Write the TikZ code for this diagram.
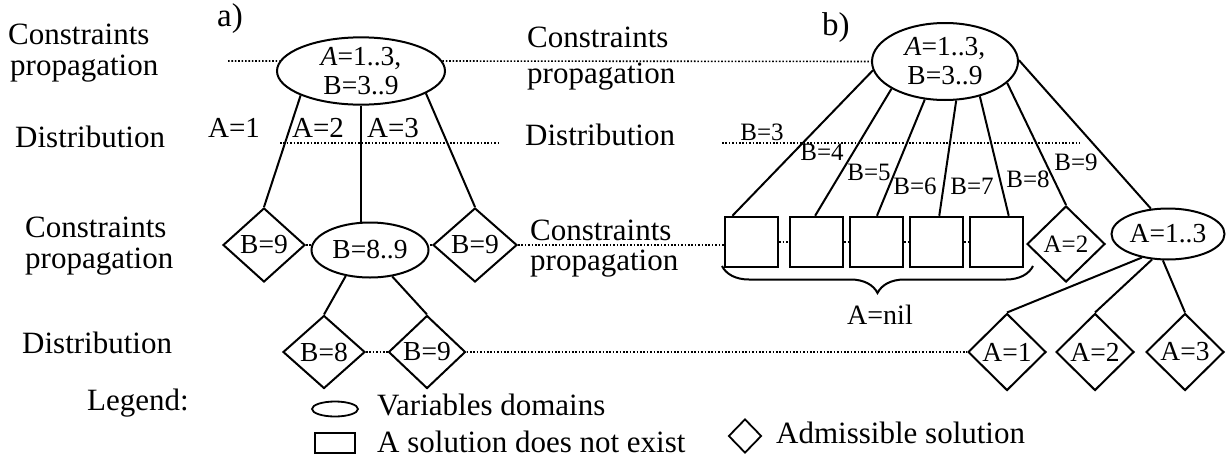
\documentclass[tikz,border=0pt]{standalone}
\usepackage{fontspec}
\setmainfont{Liberation Serif}
\usetikzlibrary{shapes.geometric,decorations.pathreplacing}
\begin{document}
\begin{tikzpicture}[x=1pt,y=-1pt,
  big/.style={font=\fontsize{31}{31}\selectfont, inner sep=0pt, anchor=base west},
  lbl/.style={font=\fontsize{29}{29}\selectfont, inner sep=0pt, anchor=base west},
  elab/.style={font=\fontsize{25}{25}\selectfont, inner sep=0pt},
  dom/.style={draw, ellipse, line width=2pt, inner sep=0pt, font=\fontsize{27.5}{29}\selectfont, align=center},
  sol/.style={draw, diamond, line width=2pt, inner sep=0pt, font=\fontsize{27.5}{27}\selectfont},
  nosol/.style={draw, rectangle, line width=2.5pt, inner sep=0pt, minimum width=53pt, minimum height=50pt},
  edge/.style={line width=2pt},
  dots/.style={line width=1.6pt, dash pattern=on 1.6pt off 1.8pt},
]
\useasboundingbox (0,0) rectangle (1226,458);

% left column labels
\node[big] (lc1) at (8,44) {Constraints};
\node[big] (lp1) at (10,75) {propagation};
\node[big] (ld1) at (15,147) {Distribution};
\node[big] (lc2) at (25,237) {Constraints};
\node[big] (lp2) at (25,268) {propagation};
\node[big] (ld2) at (22,353) {Distribution};
\node[big] (leg) at (87,410) {Legend:};

% middle column labels
\node[big] (mc1) at (527,47) {Constraints};
\node[big] (mp1) at (527,83) {propagation};
\node[big] (md1) at (525,145) {Distribution};
\node[big] (mc2) at (530,240) {Constraints};
\node[big] (mp2) at (530,270) {propagation};

\node[font=\fontsize{33}{33}\selectfont, inner sep=0pt, anchor=base west] (la) at (217,26) {a)};
\node[font=\fontsize{33}{33}\selectfont, inner sep=0pt, anchor=base west] (lb) at (822,35) {b)};

% tree a
\node[dom, minimum width=168pt, minimum height=58pt] (ra) at (361,71) {\textit{A}=1..3,\\B=3..9};
\node[sol, minimum width=82pt, minimum height=74pt] (dl) at (264,245) {B=9};
\node[dom, minimum width=117pt, minimum height=55pt] (mb) at (370,250) {B=8..9};
\node[sol, minimum width=84pt, minimum height=74pt] (dr) at (475,245) {B=9};
\node[sol, minimum width=82pt, minimum height=73pt] (d8) at (324,352) {B=8};
\node[sol, minimum width=77pt, minimum height=73pt] (d9) at (427,352) {B=9};

\draw[edge] (ra.202) -- (dl.north);
\draw[edge] (ra.south) -- (ra.south |- mb.north);
\draw[edge] (ra.341) -- (dr.north);
\draw[edge] (mb.227) -- (d8.north);
\draw[edge] (mb.310) -- (d9.north);

\node[lbl] (ea1) at (208,137) {A=1};
\node[lbl] (ea2) at (292,137) {A=2};
\node[lbl] (ea3) at (367,137) {A=3};

% tree b
\node[dom, minimum width=146pt, minimum height=77pt] (rb) at (945,61.5) {\textit{A}=1..3,\\B=3..9};
\node[nosol] (b1) at (751.5,242) {};
\node[nosol] (b2) at (816.5,242) {};
\node[nosol] (b3) at (876.5,242) {};
\node[nosol] (b4) at (936.5,242) {};
\node[nosol] (b5) at (996.5,242) {};
\node[sol, minimum width=78pt, minimum height=76pt, font=\fontsize{25}{25}\selectfont] (a2u) at (1066,244) {A=2};
\node[dom, minimum width=113pt, minimum height=51pt] (e13) at (1168,234) {A=1..3};
\node[sol, minimum width=78pt, minimum height=77pt] (a1) at (1007,352) {A=1};
\node[sol, minimum width=78pt, minimum height=77pt] (a2) at (1095,352) {A=2};
\node[sol, minimum width=78pt, minimum height=77pt] (a3) at (1185,352) {A=3};

\draw[edge] (rb.187) -- (b1.126);
\draw[edge] (rb.207) -- (b2.93);
\draw[edge] (rb.242) -- (b3.89);
\draw[edge] (rb.286) -- (b4.84);
\draw[edge] (rb.315) -- (b5.65);
\draw[edge] (rb.341) -- (a2u.north);
\draw[edge] (rb.1) -- (e13.124);
\draw[edge] (e13.222) -- (a1.north);
\draw[edge] (e13.238) -- (a2.north);
\draw[edge] (e13.259) -- (a3.north);

\node[elab] (eb3) at (762,132) {B=3};
\node[elab] (eb4) at (822,152) {B=4};
\node[elab] (eb5) at (869,172) {B=5};
\node[elab] (eb6) at (915,186) {B=6};
\node[elab] (eb7) at (972,186) {B=7};
\node[elab] (eb8) at (1028,179) {B=8};
\node[elab] (eb9) at (1076,162) {B=9};

% brace
\coordinate (brl) at (722,266);
\coordinate (brr) at (1033,266);
\draw[line width=2pt, decorate, decoration={brace, mirror, amplitude=27pt}] (brl) -- (brr);
\node[font=\fontsize{28}{28}\selectfont, inner sep=0pt] (anil) at (880,315) {A=nil};

% dotted level lines
\coordinate (pa0) at (228,61);
\draw[dots] (pa0) -- (ra.173);
\draw[dots] (ra.7) -- (rb.west);
\coordinate (da0) at (280,143);
\coordinate (da1) at (498,143);
\draw[dots] (da0) -- (da1);
\coordinate (db0) at (722,143);
\coordinate (db1) at (1080,143);
\draw[dots] (db0) -- (db1);
\draw[dots] (dl.east) -- (dl.east -| mb.west);
\draw[dots] (dr.west) -- (dr.west -| mb.east);
\draw[dots] (dr.east) -- (dr.east -| b1.west);
\draw[dots] (b1.east) -- (b2.west);
\draw[dots] (b2.east) -- (b3.west);
\draw[dots] (b3.east) -- (b4.west);
\draw[dots] (b4.east) -- (b5.west);
\draw[dots] (d8.east) -- (d9.west);
\draw[dots] (d9.east) -- (a1.west);

% legend
\node[draw, ellipse, line width=1.8pt, minimum width=46pt, minimum height=15pt, inner sep=0pt] (lge) at (335,409) {};
\node[big] (lgt1) at (377,415) {Variables domains};
\node[draw, line width=1.8pt, minimum width=40pt, minimum height=20pt, inner sep=0pt] (lgr) at (335,443) {};
\node[big] (lgt2) at (377,452) {A solution does not exist};
\node[draw, diamond, line width=1.8pt, minimum width=33pt, minimum height=34pt, inner sep=0pt] (lgd) at (745,436) {};
\node[big] (lgt3) at (776,443) {Admissible solution};
\end{tikzpicture}
\end{document}
